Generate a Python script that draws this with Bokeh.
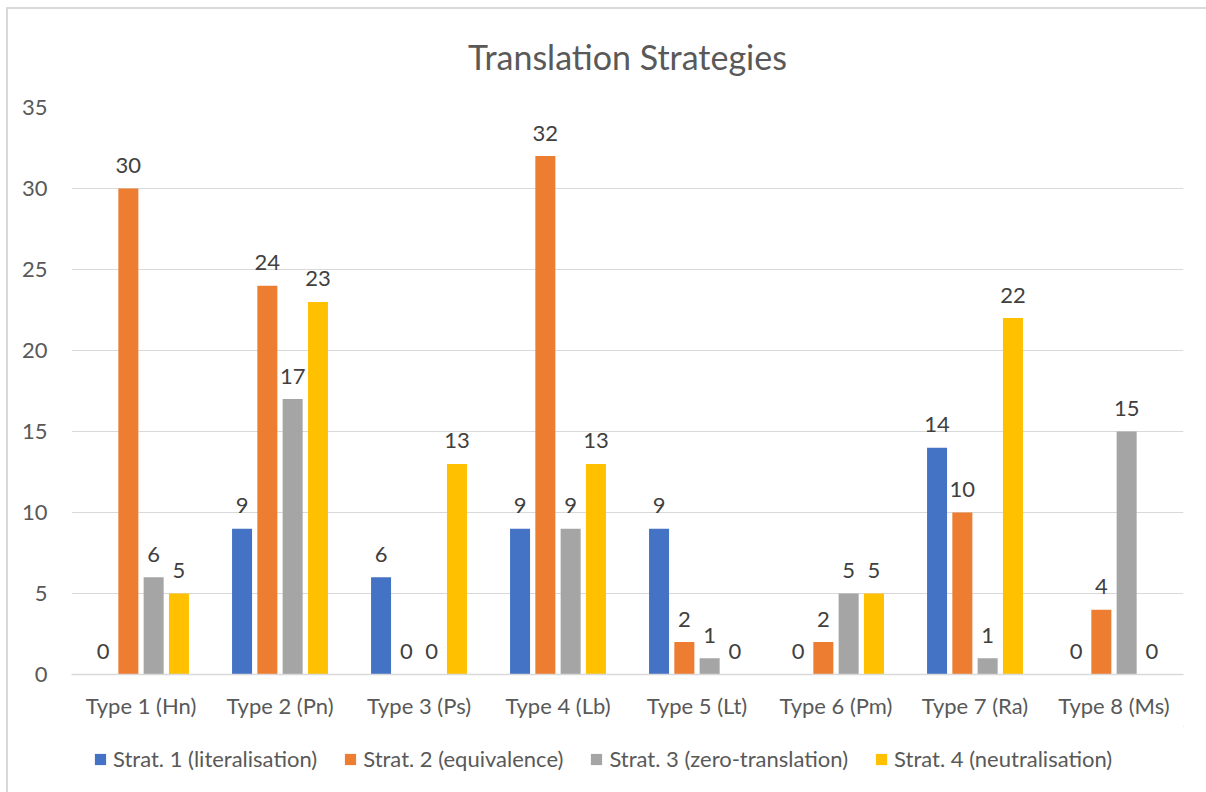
from bokeh.plotting import figure
from bokeh.layouts import column
from bokeh.models import (ColumnDataSource, FactorRange, Legend, LegendItem, LabelSet,
                          SingleIntervalTicker, InlineStyleSheet)
from bokeh.transform import dodge
from bokeh.core.properties import value
from bokeh.embed import file_html
from bokeh.resources import INLINE

types = ["Type 1 (Hn)", "Type 2 (Pn)", "Type 3 (Ps)", "Type 4 (Lb)",
         "Type 5 (Lt)", "Type 6 (Pm)", "Type 7 (Ra)", "Type 8 (Ms)"]
series_names = ["Strat. 1 (literalisation)", "Strat. 2 (equivalence)",
                "Strat. 3 (zero-translation)", "Strat. 4 (neutralisation)"]
strat1 = [0, 9, 6, 9, 9, 0, 14, 0]
strat2 = [30, 24, 0, 32, 2, 2, 10, 4]
strat3 = [6, 17, 0, 9, 1, 5, 1, 15]
strat4 = [5, 23, 13, 13, 0, 5, 22, 0]
colors = ["#4472C4", "#ED7D31", "#A5A5A5", "#FFC000"]

FONT = "Lato"
TXT = "#595959"
W = 1206

src = ColumnDataSource(dict(types=types, s1=strat1, s2=strat2, s3=strat3, s4=strat4,
                            l1=[str(v) for v in strat1], l2=[str(v) for v in strat2],
                            l3=[str(v) for v in strat3], l4=[str(v) for v in strat4]))

p = figure(width=W, height=726, x_range=FactorRange(factors=types, range_padding=0),
           y_range=(0, 35), output_backend="svg", toolbar_location=None,
           title="Translation Strategies")
p.min_border_left = 71
p.min_border_right = W - 1183
p.min_border_top = 107
p.min_border_bottom = 726 - 674
p.outline_line_color = None
p.border_fill_color = None
p.stylesheets = [InlineStyleSheet(css=(
    ":host { background-color: white;"
    " background-image: linear-gradient(#D9D9D9, #D9D9D9), linear-gradient(#D9D9D9, #D9D9D9);"
    " background-repeat: no-repeat; background-size: 100% 2px, 2px 100%;"
    " background-position: 7px 7px, 6px 7px; }"))]

p.title.align = "center"
p.title.text_font = FONT
p.title.text_font_size = "34px"
p.title.text_font_style = "normal"
p.title.text_color = TXT
p.title.standoff = 61

offsets = [-0.273, -0.091, 0.091, 0.273]
keys = ["s1", "s2", "s3", "s4"]
lkeys = ["l1", "l2", "l3", "l4"]
for k, lk, off, c in zip(keys, lkeys, offsets, colors):
    p.vbar(x=dodge("types", off, range=p.x_range), top=k, width=0.144, source=src,
           fill_color=c, line_color=None)
    lab = LabelSet(x=dodge("types", off, range=p.x_range), y=k, text=lk, source=src,
                   text_align="center", text_baseline="middle", y_offset=23,
                   text_font=value(FONT), text_font_size=value("22px"), text_color="#404040")
    p.add_layout(lab)

p.yaxis.ticker = SingleIntervalTicker(interval=5)
p.yaxis.axis_line_color = None
p.yaxis.major_tick_line_color = None
p.yaxis.minor_tick_line_color = None
p.yaxis.major_tick_out = 0
p.yaxis.major_tick_in = 0
p.yaxis.major_label_standoff = 20
p.yaxis.major_label_text_font = FONT
p.yaxis.major_label_text_font_size = "22px"
p.yaxis.major_label_text_color = TXT

p.xaxis.axis_line_color = "#D9D9D9"
p.xaxis.axis_line_width = 1.5
p.xaxis.major_tick_line_color = None
p.xaxis.minor_tick_line_color = None
p.xaxis.major_tick_out = 0
p.xaxis.major_tick_in = 0
p.xaxis.major_label_standoff = 17
p.xaxis.major_label_text_font = FONT
p.xaxis.major_label_text_font_size = "22px"
p.xaxis.major_label_text_color = TXT

p.xgrid.grid_line_color = None
p.ygrid.grid_line_color = "#D9D9D9"
p.ygrid.grid_line_width = 1

# legend strip below the chart (its frame is aligned with the chart's frame)
lf = figure(width=W, height=66, x_range=(0, 1), y_range=(0, 1), output_backend="svg",
            toolbar_location=None, min_border=0)
lf.axis.visible = False
lf.grid.visible = False
lf.outline_line_color = None
lf.border_fill_color = None
lf.stylesheets = [InlineStyleSheet(css=(
    ":host { background-color: white;"
    " background-image: linear-gradient(#D9D9D9, #D9D9D9);"
    " background-repeat: no-repeat; background-size: 2px 100%;"
    " background-position: 6px 0px; }"))]
items = []
for c, name in zip(colors, series_names):
    # legend swatch renderer; its single bar lies far outside the visible ranges
    r = lf.vbar(x=[50], bottom=[50], top=[51], width=0.1, fill_color=c, line_color=None)
    items.append(LegendItem(label=name, renderers=[r]))
legend = Legend(items=items, orientation="horizontal", location=(22, 20),
                glyph_width=14, glyph_height=14, label_standoff=6, spacing=26,
                label_text_font=FONT, label_text_font_size="22px", label_text_color=TXT,
                border_line_color=None, background_fill_alpha=0, padding=0, margin=0)
lf.add_layout(legend, "center")

layout = column(p, lf, spacing=0)
open("out.html", "w").write(file_html(layout, INLINE))
